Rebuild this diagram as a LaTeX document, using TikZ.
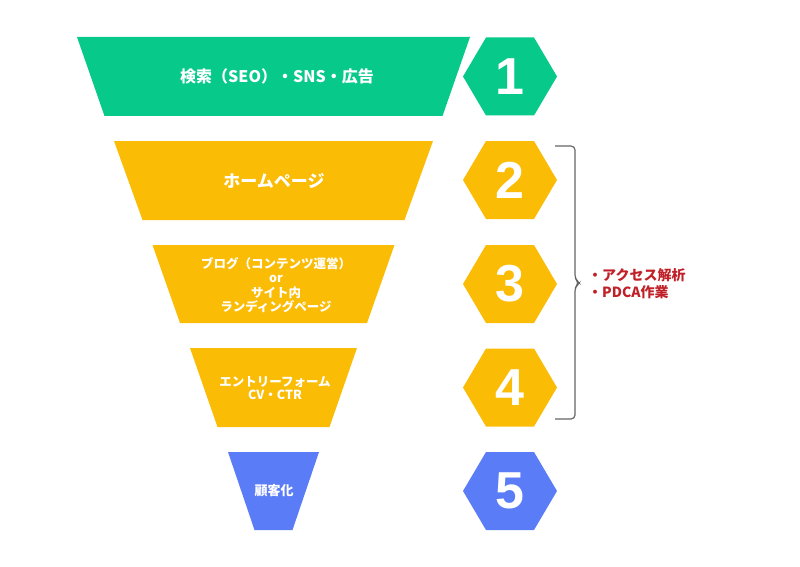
\documentclass[tikz,border=0pt]{standalone}
\usepackage{fontspec}
\setmainfont{Liberation Sans}
\newfontfamily\jp{Noto Sans CJK JP}
\definecolor{fgreen}{RGB}{6,201,138}
\definecolor{fyellow}{RGB}{251,188,5}
\definecolor{fblue}{RGB}{91,124,247}
\definecolor{fred}{RGB}{192,32,40}
\definecolor{fgray}{RGB}{100,100,100}
\tikzset{
  numtxt/.style={text=white,font=\fontsize{52}{52}\selectfont\bfseries,inner sep=0pt},
  traptxt/.style={text=white,align=center,inner sep=0pt},
  notetxt/.style={text=fred,align=left,inner sep=0pt,anchor=west,font=\jp\bfseries\fontsize{14}{17}\selectfont},
  brace/.style={draw=fgray,line width=1.2pt,rounded corners=4pt}
}
\newcommand\funnelhex[4]{%
  \fill[#3] (#1-47,#2) -- (#1-24,#2-39) -- (#1+24,#2-39) -- (#1+47,#2) -- (#1+24,#2+39) -- (#1-24,#2+39) -- cycle;
  \node[numtxt] (h#4) at (#1,#2) {#4};}
\newcommand\funneltrap[5]{% top-half-width, bottom-half-width, top y, bottom y, color
  \fill[#5] (273.5-#1,#3) -- (273.5+#1,#3) -- (273.5+#2,#4) -- (273.5-#2,#4) -- cycle;}
\begin{document}
\begin{tikzpicture}[x=1pt,y=-1pt]
\useasboundingbox (0,0) rectangle (800,567);
% trapezoids
\funneltrap{196.5}{169}{37}{116}{fgreen}
\funneltrap{159.5}{131}{141}{220}{fyellow}
\funneltrap{121}{93.5}{245}{323}{fyellow}
\funneltrap{83.5}{56}{348}{427}{fyellow}
\funneltrap{45.5}{19}{452}{530}{fblue}
\node[traptxt,font=\jp\bfseries\fontsize{16}{18}\selectfont] (t1) at (277,76) {検索（SEO）・SNS・広告};
\node[traptxt,font=\jp\bfseries\fontsize{17}{19}\selectfont] (t2) at (274,181) {ホームページ};
\node[traptxt,font=\jp\bfseries\fontsize{12.5}{14.5}\selectfont] (t3) at (276,285) {ブログ（コンテンツ運営）\\or\\サイト内\\ランディングページ};
\node[traptxt,font=\jp\bfseries\fontsize{12.5}{13}\selectfont] (t4) at (275,388) {エントリーフォーム\\CV・CTR};
\node[traptxt,font=\jp\bfseries\fontsize{13}{15}\selectfont] (t5) at (274,491) {顧客化};
% hexagons
\funnelhex{510}{76.5}{fgreen}{1}
\funnelhex{510}{180}{fyellow}{2}
\funnelhex{510}{284}{fyellow}{3}
\funnelhex{510}{387.5}{fyellow}{4}
\funnelhex{510}{491}{fblue}{5}
% brace
\coordinate (btop) at (555,146);
\coordinate (bbot) at (555,419);
\draw[brace] (btop) -- (575,146) -- (575,279) -- (579.5,283) -- (575,287) -- (575,419) -- (bbot);
\node[notetxt] (note) at (588,284) {・アクセス解析\\・PDCA作業};
\end{tikzpicture}
\end{document}
